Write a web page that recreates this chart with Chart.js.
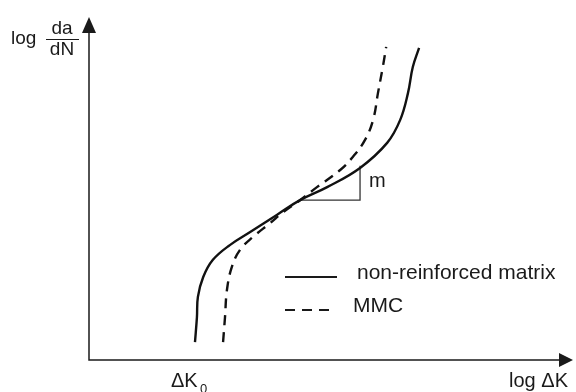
<!DOCTYPE html>
<html>
<head>
<meta charset="utf-8">
<script src="https://cdn.jsdelivr.net/npm/chart.js@4.4.1/dist/chart.umd.min.js"></script>
<style>
  body { margin: 0; background: #fff; }
  #wrap { width: 576px; height: 392px; }
</style>
</head>
<body>
<div id="wrap"><canvas id="fcg-chart" width="576" height="392"></canvas></div>
<script>
// crack growth curves (arbitrary log units 0..100)
const seriesLabels = ['non-reinforced matrix', 'MMC'];
const matrixX = [21.9, 22.3, 22.5, 23.6, 25.6, 29.1, 33.3, 38.8, 43.6, 49.2, 56.0, 61.6, 64.3, 65.9, 66.9, 68.2];
const matrixY = [5.2, 12.5, 18.4, 24.2, 29.2, 33.5, 37.3, 42.3, 46.6, 50.4, 56.0, 63.3, 70.0, 77.8, 85.4, 91.0];
const mmcX = [27.7, 28.1, 28.5, 29.5, 31.2, 33.9, 37.4, 40.1, 43.6, 47.1, 51.9, 54.5, 57.0, 58.7, 59.7, 60.7, 61.4];
const mmcY = [5.2, 12.5, 20.4, 27.1, 32.1, 35.9, 39.9, 43.1, 46.6, 50.4, 55.4, 59.2, 64.1, 70.0, 77.8, 85.4, 91.3];
// slope triangle (m)
const slopeX = [43.6, 56.0, 56.0];
const slopeY = [46.6, 46.6, 56.6];

const toPoints = (xs, ys) => xs.map((x, i) => ({ x: x, y: ys[i] }));

const FONT = '"Liberation Sans", Arial, sans-serif';

const sketchPlugin = {
  id: 'sketch',
  afterDraw(chart) {
    const ctx = chart.ctx;
    const xs = chart.scales.x, ys = chart.scales.y;
    const x0 = xs.getPixelForValue(0), y0 = ys.getPixelForValue(0);
    const xEnd = xs.getPixelForValue(100), yEnd = ys.getPixelForValue(100);
    ctx.save();
    ctx.strokeStyle = '#1a1a1a';
    ctx.fillStyle = '#1a1a1a';
    ctx.lineWidth = 1.5;
    // axes
    ctx.beginPath();
    ctx.moveTo(x0, yEnd + 10);
    ctx.lineTo(x0, y0);
    ctx.lineTo(xEnd - 8, y0);
    ctx.stroke();
    // arrow heads
    ctx.beginPath();
    ctx.moveTo(x0, yEnd);
    ctx.lineTo(x0 - 7, yEnd + 16);
    ctx.lineTo(x0 + 7, yEnd + 16);
    ctx.closePath();
    ctx.fill();
    ctx.beginPath();
    ctx.moveTo(xEnd, y0);
    ctx.lineTo(xEnd - 14, y0 - 7);
    ctx.lineTo(xEnd - 14, y0 + 7);
    ctx.closePath();
    ctx.fill();

    ctx.textBaseline = 'middle';
    ctx.font = '19px ' + FONT;
    // y axis title: log da/dN
    ctx.textAlign = 'left';
    ctx.fillText('log', 11, 39);
    ctx.textAlign = 'center';
    ctx.fillText('da', 62, 29);
    ctx.fillText('dN', 62, 50);
    ctx.lineWidth = 1.2;
    ctx.beginPath();
    ctx.moveTo(46, 39.5);
    ctx.lineTo(79, 39.5);
    ctx.stroke();

    // x axis title
    ctx.font = '20px ' + FONT;
    ctx.textAlign = 'right';
    ctx.fillText('log \u0394K', 568, 381);
    // threshold label
    ctx.textAlign = 'left';
    ctx.fillText('\u0394K', 171, 381);
    ctx.font = '13px ' + FONT;
    ctx.fillText('0', 200, 389);

    // slope label
    ctx.font = '20px ' + FONT;
    ctx.fillText('m', xs.getPixelForValue(slopeX[1]) + 9, ys.getPixelForValue(slopeY[0] + 5.5));

    // legend
    const ds = chart.data.datasets;
    const rows = [277, 310];
    for (let i = 0; i < 2; i++) {
      const y = rows[i];
      ctx.lineWidth = 2;
      ctx.setLineDash(ds[i].borderDash || []);
      ctx.beginPath();
      ctx.moveTo(285, y);
      ctx.lineTo(i === 0 ? 337 : 333, y);
      ctx.stroke();
      ctx.setLineDash([]);
      ctx.font = '21px ' + FONT;
      ctx.fillText(ds[i].label, i === 0 ? 357 : 353, y - 4);
    }
    ctx.restore();
  }
};

new Chart(document.getElementById('fcg-chart').getContext('2d'), {
  type: 'line',
  data: {
    datasets: [
      {
        label: seriesLabels[0],
        data: toPoints(matrixX, matrixY),
        borderColor: '#111',
        borderWidth: 2.4,
        pointRadius: 0,
        tension: 0.4,
        fill: false
      },
      {
        label: seriesLabels[1],
        data: toPoints(mmcX, mmcY),
        borderColor: '#111',
        borderWidth: 2.4,
        borderDash: [10, 7],
        pointRadius: 0,
        tension: 0.4,
        fill: false
      },
      {
        label: 'slope',
        data: toPoints(slopeX, slopeY),
        borderColor: '#333',
        borderWidth: 1.3,
        pointRadius: 0,
        tension: 0,
        fill: false
      }
    ]
  },
  options: {
    responsive: false,
    animation: false,
    events: [],
    layout: { padding: { left: 89, right: 3, top: 17, bottom: 32 } },
    plugins: { legend: { display: false }, tooltip: { enabled: false } },
    scales: {
      x: { type: 'linear', min: 0, max: 100, display: false },
      y: { type: 'linear', min: 0, max: 100, display: false }
    }
  },
  plugins: [sketchPlugin]
});
</script>
</body>
</html>
